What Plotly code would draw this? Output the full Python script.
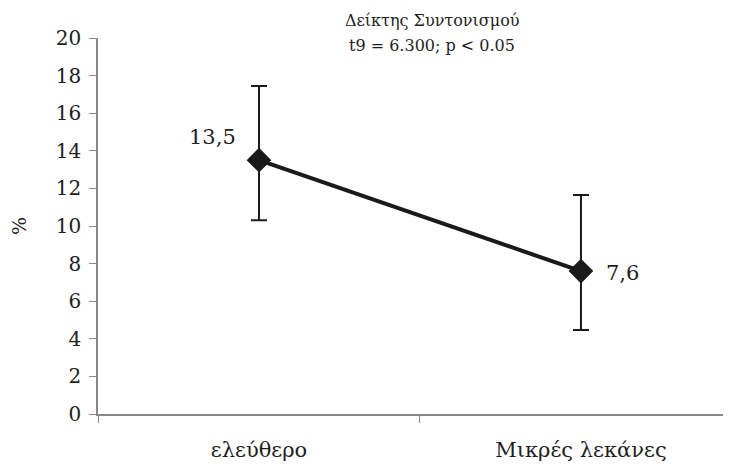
import plotly.graph_objects as go

categories = ["ελεύθερο", "Μικρές λεκάνες"]
values = [13.5, 7.6]
err_upper = [17.45, 11.65]
err_lower = [10.3, 4.47]
value_labels = ["13,5", "7,6"]
y_ticks = [0, 2, 4, 6, 8, 10, 12, 14, 16, 18, 20]
title_lines = ["Δείκτης Συντονισμού", "t9 = 6.300; p < 0.05"]

plus = [u - v for u, v in zip(err_upper, values)]
minus = [v - l for v, l in zip(values, err_lower)]

FONT = "DejaVu Serif, Liberation Serif, serif"
TXT = "#1e1e1e"

fig = go.Figure()
fig.add_trace(go.Scatter(
    x=categories, y=values, mode="lines+markers",
    line=dict(color="#1a1a1a", width=4),
    marker=dict(symbol="diamond", size=19, color="#1a1a1a"),
    error_y=dict(type="data", symmetric=False, array=plus, arrayminus=minus,
                 color="#1a1a1a", thickness=2, width=8),
    showlegend=False,
))

fig.add_annotation(x=categories[0], y=values[0], text=value_labels[0], showarrow=False,
                   xanchor="center", yanchor="middle", xshift=-46, yshift=23,
                   font=dict(family=FONT, size=21, color=TXT))
fig.add_annotation(x=categories[1], y=values[1], text=value_labels[1], showarrow=False,
                   xanchor="center", yanchor="middle", xshift=42, yshift=-2,
                   font=dict(family=FONT, size=21, color=TXT))

for line, shift in zip(title_lines, [18, -7]):
    fig.add_annotation(xref="paper", yref="paper", x=0.528, y=1.0, yanchor="middle",
                       yshift=shift, text=line, showarrow=False, align="center",
                       font=dict(family=FONT, size=16, color=TXT))

fig.update_layout(
    width=731, height=469,
    margin=dict(l=90, r=8, t=30, b=63),
    plot_bgcolor="white", paper_bgcolor="white",
    font=dict(family=FONT, size=20, color=TXT),
    xaxis=dict(type="category", range=[-0.5, 1.466], tickson="boundaries",
               ticks="outside", ticklen=7, tickcolor="#888", showline=True,
               linecolor="#888", linewidth=1.5, showgrid=False, zeroline=False,
               ticklabelstandoff=16,
               tickfont=dict(family=FONT, size=21, color=TXT)),
    yaxis=dict(range=[0, 20], tickvals=y_ticks, ticks="outside", ticklen=7,
               tickcolor="#888", showline=True, linecolor="#888", linewidth=1.5,
               showgrid=False, zeroline=False, ticklabelstandoff=4,
               title=dict(text="%", standoff=24, font=dict(family=FONT, size=19)),
               tickfont=dict(family=FONT, size=20, color=TXT)),
)

fig.write_html("out.html")
